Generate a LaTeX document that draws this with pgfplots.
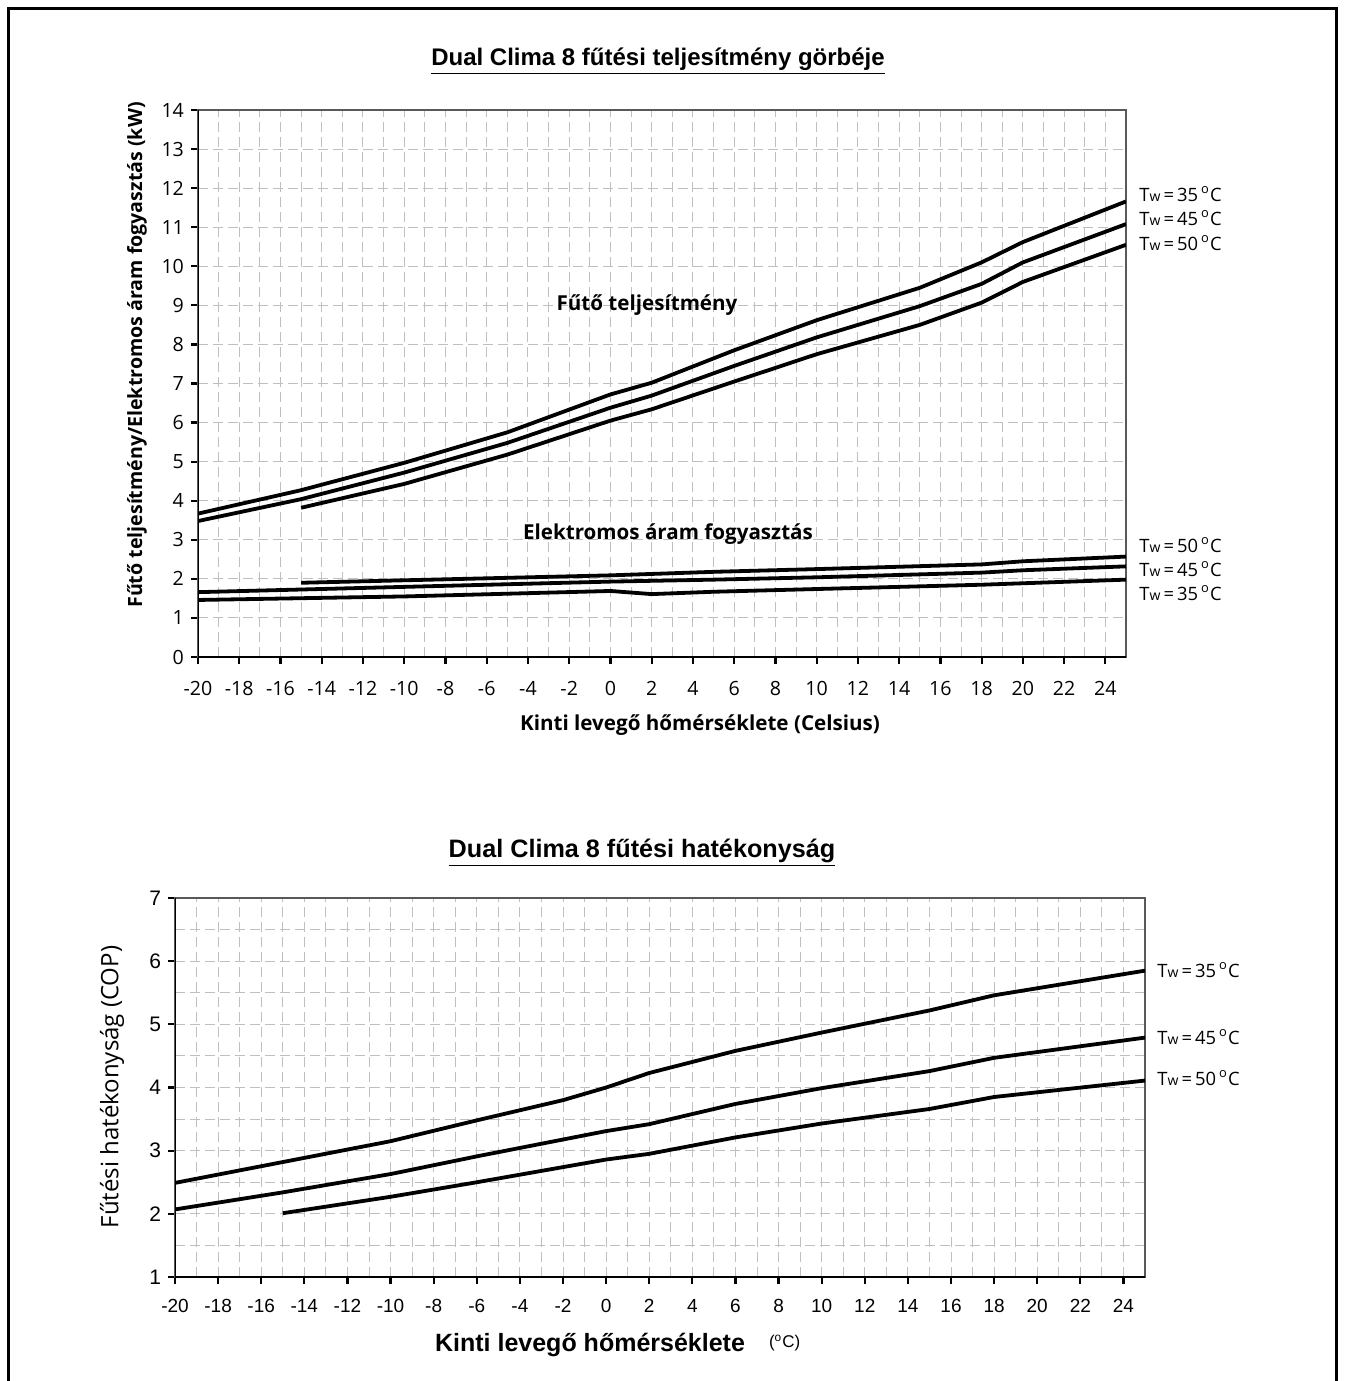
\documentclass[border=0pt]{standalone}
\usepackage{pgfplots}
\pgfplotsset{compat=1.18}
\usepackage{fontspec}
\setmainfont{Open Sans}
\newfontfamily\arial{Liberation Sans}
\newcommand{\tw}[1]{T{\fontsize{7}{8}\selectfont w}\,=\,#1\,\textsuperscript{o}C}

\pgfplotstableread{
x y
-20 3.67
-15 4.27
-10 4.97
-5 5.75
0 6.72
2 7.02
6 7.85
10 8.62
15 9.45
18 10.10
20 10.62
25 11.66
}\capA
\pgfplotstableread{
x y
-20 3.48
-15 4.04
-10 4.72
-5 5.48
0 6.38
2 6.69
6 7.45
10 8.18
15 8.98
18 9.55
20 10.10
25 11.08
}\capB
\pgfplotstableread{
x y
-15 3.82
-10 4.43
-5 5.18
0 6.05
2 6.34
6 7.05
10 7.75
15 8.50
18 9.07
20 9.60
25 10.55
}\capC
\pgfplotstableread{
x y
-15 1.90
0 2.09
5 2.18
10 2.25
18 2.37
20 2.45
25 2.57
}\elC
\pgfplotstableread{
x y
-20 1.66
0 1.93
5 1.98
10 2.04
18 2.16
20 2.22
25 2.32
}\elB
\pgfplotstableread{
x y
-20 1.46
-10 1.55
0 1.69
2 1.61
5 1.67
10 1.74
18 1.85
25 1.98
}\elA
\pgfplotstableread{
x y
-20 2.49
-15 2.82
-10 3.15
-6 3.48
-2 3.80
0 4.00
2 4.23
6 4.58
10 4.87
15 5.22
18 5.46
25 5.85
}\copA
\pgfplotstableread{
x y
-20 2.07
-15 2.34
-10 2.63
-6 2.91
0 3.31
2 3.42
6 3.74
10 3.99
15 4.26
18 4.47
25 4.79
}\copB
\pgfplotstableread{
x y
-15 2.01
-10 2.27
-6 2.50
0 2.86
2 2.95
6 3.21
10 3.43
15 3.66
18 3.85
25 4.11
}\copC

\pgfplotsset{
  dcline/.style={black, solid, line width=1.9pt, line join=round, mark=none},
  dcstyle/.style={
    scale only axis, xmin=-20, xmax=25,
    grid=both,
    major grid style={gray!50, dash pattern=on 5pt off 2.5pt, line width=0.5pt},
    minor grid style={gray!50, dash pattern=on 5pt off 2.5pt, line width=0.5pt},
    axis line style={gray!70!black, line width=0.7pt},
    tick align=outside, xtick pos=left, ytick pos=left,
    major tick length=3.5pt, minor tick length=0pt,
    tick style={black, line width=1.1pt},
    xtick={-20,-18,-16,-14,-12,-10,-8,-6,-4,-2,0,2,4,6,8,10,12,14,16,18,20,22,24},
    xticklabels={-20,-18,-16,-14,-12,-10,-8,-6,-4,-2,0,2,4,6,8,10,12,14,16,18,20,22,24},
    minor x tick num=1,
  }
}

\begin{document}
\begin{tikzpicture}[x=0.5pt, y=-0.5pt]
\useasboundingbox (0,0) rectangle (1344,1381);
\draw[line width=1.5pt] (8,1381) -- (8,8) -- (1336,8) -- (1336,1381);

% ---------- top chart ----------
\begin{axis}[dcstyle, at={(99pt,-328.5pt)}, anchor=south west,
  width=464pt, height=273.5pt, ymin=0, ymax=14,
  ytick={0,1,...,14},
  yticklabels={0,1,2,3,4,5,6,7,8,9,10,11,12,13,14},
  ticklabel style={font=\fontsize{9.8}{11}\selectfont},
  xticklabel style={yshift=-5pt}]
\addplot[dcline] table {\capA};
\addplot[dcline] table {\capB};
\addplot[dcline] table {\capC};
\addplot[dcline] table {\elA};
\addplot[dcline] table {\elB};
\addplot[dcline] table {\elC};
\draw[black, line width=1.4pt] (rel axis cs:0,1) -- (rel axis cs:0,0) -- (rel axis cs:1,0);
\end{axis}

\node at (658,61) {\arial\bfseries\fontsize{12}{14}\selectfont\underline{Dual Clima 8 fűtési teljesítmény görbéje}};
\node[rotate=90] at (137,355) {\bfseries\fontsize{9.8}{11}\selectfont Fűtő teljesítmény/Elektromos áram fogyasztás (kW)};
\node at (700,725) {\bfseries\fontsize{10.3}{12}\selectfont Kinti levegő hőmérséklete (Celsius)};
\node at (647,305) {\bfseries\fontsize{10.3}{12}\selectfont Fűtő teljesítmény};
\node at (668,534) {\bfseries\fontsize{10.3}{12}\selectfont Elektromos áram fogyasztás};
\begin{scope}[every node/.style={anchor=west, font=\fontsize{9.2}{10}\selectfont, inner sep=0pt}]
\node at (1139,194) {\tw{35}};
\node at (1139,218) {\tw{45}};
\node at (1139,243) {\tw{50}};
\node at (1139,545) {\tw{50}};
\node at (1139,569) {\tw{45}};
\node at (1139,593) {\tw{35}};
\end{scope}

% ---------- bottom chart ----------
\begin{axis}[dcstyle, at={(87.5pt,-638.5pt)}, anchor=south west,
  width=485pt, height=189.5pt, ymin=1, ymax=7,
  ytick={1,2,...,7}, yticklabels={1,2,3,4,5,6,7},
  minor y tick num=1,
  ticklabel style={font=\arial\fontsize{9.5}{11}\selectfont},
  yticklabel style={font=\arial\fontsize{10.5}{12}\selectfont},
  xticklabel style={yshift=-4pt}]
\addplot[dcline] table {\copA};
\addplot[dcline] table {\copB};
\addplot[dcline] table {\copC};
\draw[black, line width=1.4pt] (rel axis cs:0,1) -- (rel axis cs:0,0) -- (rel axis cs:1,0);
\end{axis}

\node at (642,853) {\arial\bfseries\fontsize{12.6}{14}\selectfont\underline{Dual Clima 8 fűtési hatékonyság}};
\node[rotate=90] at (112,1087) {\fontsize{12}{14}\selectfont Fűtési hatékonyság (COP)};
\node[anchor=east] at (752,1345) {\arial\bfseries\fontsize{12.5}{14}\selectfont Kinti levegő hőmérséklete};
\node[anchor=west] at (762,1343) {\arial\fontsize{8.5}{10}\selectfont (\textsuperscript{o}C)};
\begin{scope}[every node/.style={anchor=west, font=\fontsize{9.2}{10}\selectfont, inner sep=0pt}]
\node at (1157,970) {\tw{35}};
\node at (1157,1037) {\tw{45}};
\node at (1157,1078) {\tw{50}};
\end{scope}
\end{tikzpicture}
\end{document}
